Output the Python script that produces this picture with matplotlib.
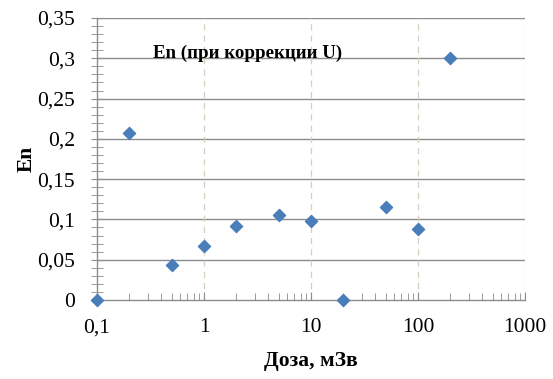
import matplotlib
matplotlib.use("Agg")
import matplotlib.pyplot as plt
from matplotlib.ticker import FixedLocator, FuncFormatter, LogLocator, MultipleLocator

# dose, mSv and En values
dose = [0.1, 0.2, 0.5, 1, 2, 5, 10, 20, 50, 100, 200]
en = [0.0, 0.207, 0.043, 0.067, 0.092, 0.106, 0.098, 0.0, 0.116, 0.088, 0.3]

x_ticks = [0.1, 1, 10, 100, 1000]
y_ticks = [0, 0.05, 0.1, 0.15, 0.2, 0.25, 0.3, 0.35]

plt.rcParams['font.family'] = ['Liberation Serif', 'DejaVu Serif']

fig = plt.figure(figsize=(5.53, 3.79), dpi=100)
ax = fig.add_axes([97 / 553, 1 - 300 / 379, (525 - 97) / 553, (300 - 18) / 379])

#horizontal solid grid, vertical dashed grid
for y in y_ticks[1:]:
    ax.axhline(y, color='#8c8c8c', lw=1.0, zorder=1)
for x in x_ticks[1:]:
    ax.axvline(x, color='#d6cfc0', lw=0.9, ls=(0, (5, 4)), zorder=1)

ax.scatter(dose, en, marker='D', s=38, color='#4a7ebb', zorder=3, clip_on=False)

ax.set_xscale('log')
ax.set_xlim(0.1, 1000)
ax.set_ylim(0, 0.35)

ax.xaxis.set_major_locator(FixedLocator(x_ticks))
ax.xaxis.set_minor_locator(LogLocator(base=10, subs=range(2, 10)))
ax.yaxis.set_major_locator(FixedLocator(y_ticks))
ax.yaxis.set_minor_locator(MultipleLocator(0.01))

comma = FuncFormatter(lambda v, p: ('%g' % v).replace('.', ','))
ax.xaxis.set_major_formatter(comma)
ax.yaxis.set_major_formatter(comma)
ax.xaxis.set_minor_formatter(FuncFormatter(lambda v, p: ''))

for s in ['top', 'right']:
    ax.spines[s].set_visible(False)
for s in ['left', 'bottom']:
    ax.spines[s].set_color('#8c8c8c')
    ax.spines[s].set_linewidth(1.0)

ax.tick_params(axis='x', which='both', direction='in', color='#8c8c8c', labelsize=15.5, pad=13)
ax.tick_params(axis='x', which='major', length=6)
ax.tick_params(axis='x', which='minor', length=5)
ax.tick_params(axis='y', which='both', direction='inout', color='#8c8c8c', labelsize=15.5, pad=12)
ax.tick_params(axis='y', which='major', length=8)
ax.tick_params(axis='y', which='minor', length=8)

ax.text(0.333, 0.3, 'En (при коррекции U)', fontsize=13.6, fontweight='bold', va='baseline')
ax.set_xlabel('Доза, мЗв', fontsize=15.5, fontweight='bold', labelpad=10)
ax.set_ylabel('En', fontsize=15.5, fontweight='bold', labelpad=0)

fig.savefig('out.png', dpi=100)
